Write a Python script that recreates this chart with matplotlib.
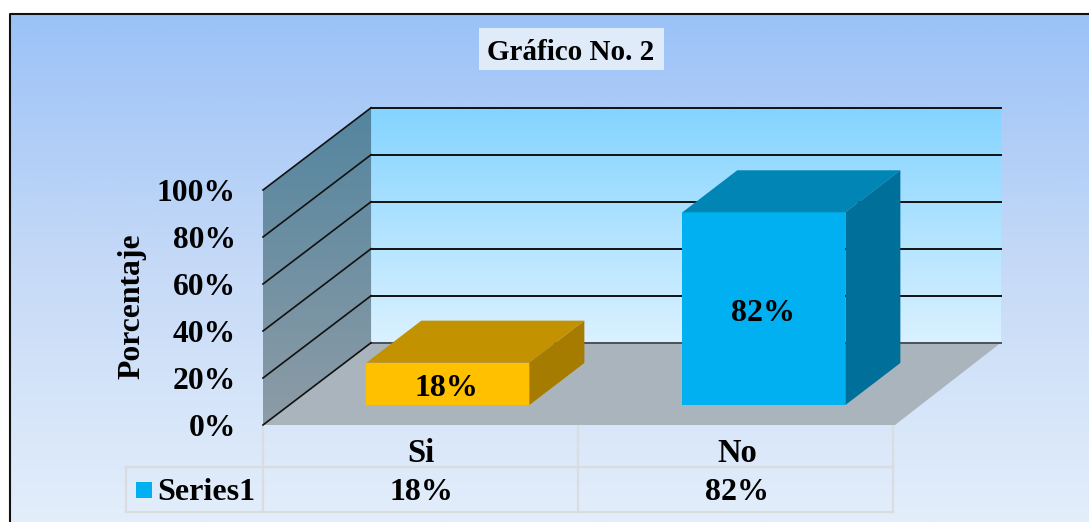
import numpy as np
import matplotlib
matplotlib.use('Agg')
import matplotlib.pyplot as plt
from matplotlib.patches import Polygon, Rectangle

plt.rcParams['font.family'] = ['Liberation Serif', 'DejaVu Serif']
plt.rcParams['font.weight'] = 'bold'

categories = ['Si', 'No']
values = [18, 82]
value_labels = ['18%', '82%']
yticks = [0, 20, 40, 60, 80, 100]
ytick_labels = ['0%', '20%', '40%', '60%', '80%', '100%']
series_name = 'Series1'
title = 'Gráfico No. 2'
ylabel = 'Porcentaje'

W, H = 1089, 522

# depth of the 3d box, in data units of the main axes
wall_dx, wall_dy = 0.342, 35.0
wall_trim = 0.007
bar_dx, bar_dy = 0.174, 17.9
bar_w = 0.516
bar_shift, bar_base = 0.085, 8.5

bar_colors = [('#FFC000', '#C39200', '#A67C00'), ('#00B0F0', '#0085B5', '#006F9A')]

fig = plt.figure(figsize=(W / 100, H / 100), dpi=100)

# background layer in pixel coordinates
bg = fig.add_axes([0, 0, 1, 1])
bg.set_xlim(0, W)
bg.set_ylim(H, 0)
bg.axis('off')

cmap = matplotlib.colors.LinearSegmentedColormap.from_list
grad = np.linspace(0, 1, 256).reshape(-1, 1)
bg.imshow(grad, cmap=cmap('bgc', ['#9BC2F7', '#C6DAF7', '#E3EEFB']), extent=(11, W, H, 14), aspect='auto')
bg.set_xlim(0, W)
bg.set_ylim(H, 0)
bg.plot([10, 10, W], [H, 13.5, 13.5], color='#111111', lw=1.5)

# data table lines
line_c = '#DADDE0'
for x in [263, 578, 893]:
    bg.plot([x, x], [425, 512], color=line_c, lw=1.6)
for y in [467, 512]:
    bg.plot([126, 893], [y, y], color=line_c, lw=1.6)
bg.plot([126, 126], [467, 512], color=line_c, lw=1.6)
bg.add_patch(Rectangle((136, 482), 16, 16, color='#00B0F0', lw=0))

bg.add_patch(Rectangle((479, 28), 185, 42, color='#DFEBF8', lw=0))
bg.text(571, 53, title, ha='center', va='center', fontsize=21, color='black')
bg.text(206.5, 492, series_name, ha='center', va='center', fontsize=23, color='black')

# main axes: its box is the front plane of the 3d plot
ax = fig.add_axes([263 / W, 1 - 425 / H, 632 / W, 235 / H])
ax.patch.set_alpha(0)
ax.set_xlim(-0.5, 1.5)
ax.set_ylim(0, 100)
for s in ax.spines.values():
    s.set_visible(False)


def grad_poly(pts, c1, c2, z):
    pts = np.array(pts)
    g = cmap('w', [c1, c2])
    im = ax.imshow(np.linspace(0, 1, 128).reshape(-1, 1), cmap=g, aspect='auto', zorder=z,
                   extent=(pts[:, 0].min(), pts[:, 0].max(), pts[:, 1].min(), pts[:, 1].max()),
                   origin='upper')
    im.set_clip_box(fig.bbox)
    im.set_clip_path(Polygon(pts, transform=ax.transData))


x0, x1 = -0.5, 1.5
xb0, xb1 = x0 + wall_dx, x1 + wall_dx - wall_trim
grad_poly([(xb0, wall_dy), (xb1, wall_dy), (xb1, 100 + wall_dy), (xb0, 100 + wall_dy)],
          '#84D4FF', '#DAF1FF', 1)
grad_poly([(x0, 0), (xb0, wall_dy), (xb0, 100 + wall_dy), (x0, 100)],
          '#53859F', '#8E9CA6', 1)
ax.fill([x0, x1, xb1, xb0], [0, 0, wall_dy, wall_dy], color='#A9B4BC', lw=0, zorder=2, clip_on=False)
ax.set_xlim(x0, x1)
ax.set_ylim(0, 100)

for t in yticks:
    c = '#4A5258' if t == 0 else '#111111'
    ax.plot([xb0, xb1], [t + wall_dy, t + wall_dy], color=c, lw=1.4, zorder=3, clip_on=False)
    ax.plot([x0, xb0], [t, t + wall_dy], color='#111111', lw=1.2, zorder=3, clip_on=False)

for i, v in enumerate(values):
    left = i + bar_shift - bar_w / 2
    right = left + bar_w
    front, top, side = bar_colors[i]
    b, t = bar_base, bar_base + v
    ax.fill([left, right, right, left], [b, b, t, t], color=front, lw=0, zorder=5, clip_on=False)
    ax.fill([left, right, right + bar_dx, left + bar_dx], [t, t, t + bar_dy, t + bar_dy],
            color=top, lw=0, zorder=5, clip_on=False)
    ax.fill([right, right + bar_dx, right + bar_dx, right], [b, b + bar_dy, t + bar_dy, t],
            color=side, lw=0, zorder=5, clip_on=False)
    ax.text(i + bar_shift - 0.003, b + v / 2 - 2.0, value_labels[i], ha='center', va='center',
            fontsize=23, color='black', zorder=6)
    ax.text(i, -28.8, value_labels[i], ha='center', va='center', fontsize=23, color='black')

ax.set_yticks(yticks)
ax.set_yticklabels(ytick_labels, fontsize=22.7, fontweight='bold')
ax.set_xticks(range(len(categories)))
ax.set_xticklabels(categories, fontsize=23.5, fontweight='bold')
ax.tick_params(axis='y', length=0, pad=19.5)
ax.tick_params(axis='x', length=0, pad=9.5)
ax.text(-0.207, 0.507, ylabel, transform=ax.transAxes, rotation=90, ha='center', va='center',
        fontsize=22.8, color='black')

fig.savefig('out.png', dpi=100)
